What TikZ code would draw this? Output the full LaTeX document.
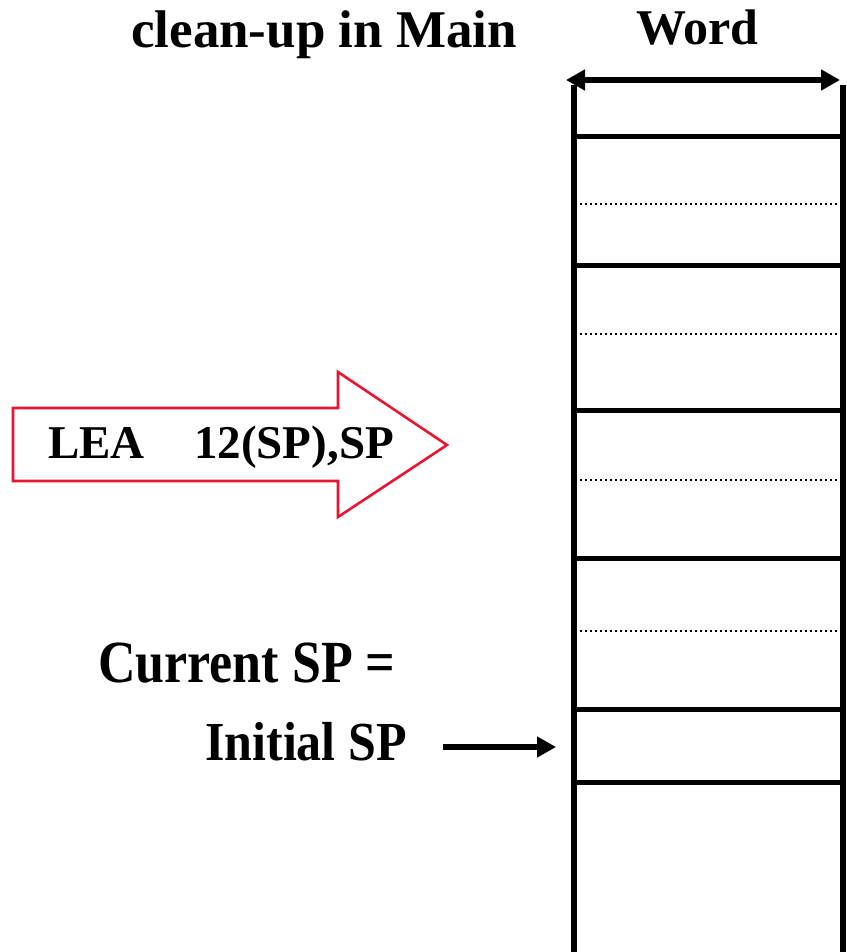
\documentclass[tikz,border=0pt]{standalone}
\usepackage{fontspec}
\setmainfont{Liberation Serif}
\usetikzlibrary{arrows.meta}
\definecolor{lea}{RGB}{235,20,50}
\tikzset{
  label/.style={inner sep=0pt, anchor=base west, font=\bfseries\fontsize{#1}{#1}\selectfont},
  wall/.style={line width=5.5pt},
  slot/.style={line width=5pt},
  half/.style={line width=2.4pt, dash pattern=on 2.2pt off 2.8pt},
  bigtip/.style={-{Triangle[length=19pt,width=20pt]}, line width=5.5pt},
  bothtip/.style={{Triangle[length=19pt,width=20pt]}-{Triangle[length=19pt,width=20pt]}, line width=5.5pt},
}
\begin{document}
\begin{tikzpicture}[x=1pt,y=-1pt]
\useasboundingbox[fill=white] (0,0) rectangle (846,952);

% titles
\node[label=53] (title) at (131,48) {clean-up in Main};
\node[label=50] (word) at (636,45) {Word};

% word width marker
\coordinate (wl) at (566,80);
\coordinate (wr) at (840,80);
\draw[bothtip] (wl) -- (wr);

% stack walls
\coordinate (lt) at (574,85);
\coordinate (lb) at (574,952);
\coordinate (rt) at (843,85);
\coordinate (rb) at (843,952);
\draw[wall] (lt) -- (lb);
\draw[wall] (rt) -- (rb);

% word boundaries
\foreach \yy in {137,265,410,558,709,782}
  \draw[slot] (574,\yy) -- (843,\yy);
% half-word boundaries
\foreach \yy in {204,334,480,631}
  \draw[half] (580,\yy) -- (843,\yy);

% instruction arrow
\draw[lea, line width=2.6pt, line join=miter]
  (13,408) -- (338,408) -- (338,372) -- (447,445) -- (338,517)
  -- (338,481) -- (13,481) -- cycle;
\node[label=47] (op) at (48,458) {LEA};
\node[label=47] (arg) at (194,458) {12(SP),SP};

% stack pointer labels
\node[label=52] (cur) at (98,682) {\scalebox{1}[1.15]{Current SP =}};
\node[label=50] (init) at (205,760) {\scalebox{1}[1.1]{Initial SP}};
\coordinate (ptr) at (556,747);
\draw[bigtip] (443,747) -- (ptr);
\end{tikzpicture}
\end{document}
